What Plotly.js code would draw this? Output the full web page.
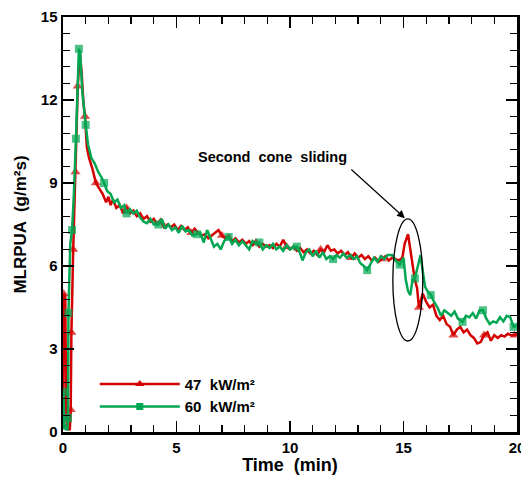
<!DOCTYPE html>
<html>
<head>
<meta charset="utf-8">
<script src="https://cdn.plot.ly/plotly-3.0.1.min.js"></script>
<style>html,body{margin:0;padding:0;background:#fff}#chart{width:521px;height:483px}</style>
</head>
<body>
<div id="chart"></div>
<script>
// ---- data (Time in min, MLRPUA in g/m²s) ----
const time47 = [0.00,0.03,0.10,0.14,0.20,0.30,0.34,0.37,0.45,0.55,0.65,0.74,0.82,0.90,0.97,1.05,1.15,1.30,1.45,1.60,1.75,1.90,2.00,2.10,2.20,2.35,2.50,2.65,2.80,2.95,3.10,3.25,3.40,3.55,3.70,3.85,4.00,4.15,4.30,4.45,4.60,4.75,4.90,5.05,5.20,5.35,5.50,5.65,5.80,5.95,6.10,6.25,6.40,6.55,6.70,6.85,7.00,7.15,7.30,7.45,7.60,7.75,7.90,8.05,8.20,8.35,8.50,8.65,8.80,8.95,9.10,9.25,9.40,9.55,9.70,9.85,10.00,10.15,10.30,10.45,10.60,10.75,10.90,11.05,11.20,11.35,11.50,11.65,11.80,11.95,12.10,12.25,12.40,12.55,12.70,12.85,13.00,13.15,13.30,13.45,13.60,13.75,13.90,14.05,14.20,14.35,14.50,14.65,14.80,14.95,15.05,15.20,15.30,15.40,15.50,15.60,15.68,15.75,15.85,16.00,16.15,16.30,16.45,16.60,16.75,16.90,17.05,17.20,17.35,17.50,17.65,17.80,17.95,18.10,18.25,18.40,18.55,18.70,18.85,19.00,19.15,19.30,19.45,19.60,19.75,19.90,20.00];
const mlr47 = [0.1,5.0,4.9,0.6,0.1,0.1,0.8,3.6,6.6,9.4,12.5,13.7,13.0,11.9,11.4,10.3,9.9,9.5,9.0,8.8,8.6,8.3,8.5,8.2,8.4,8.1,8.2,7.9,8.1,7.9,8.0,7.8,7.9,7.7,7.8,7.6,7.7,7.5,7.6,7.4,7.5,7.4,7.5,7.3,7.45,7.3,7.4,7.2,7.35,7.2,7.1,7.15,7.0,7.1,7.2,7.3,7.1,7.0,7.1,6.9,7.0,6.85,6.95,6.8,6.9,6.75,6.85,6.7,6.8,6.7,6.75,6.65,6.8,6.7,6.95,6.7,6.6,6.7,6.55,6.65,6.5,6.6,6.45,6.55,6.4,6.6,6.5,6.75,6.55,6.6,6.45,6.55,6.4,6.5,6.3,6.45,6.3,6.4,6.25,6.35,6.2,6.3,6.15,6.25,6.35,6.2,6.3,6.25,6.2,6.3,6.8,7.15,6.6,5.9,5.5,5.2,4.5,4.7,5.0,4.7,4.5,4.6,4.2,4.05,4.2,3.9,3.8,3.5,3.7,3.8,3.6,3.7,3.5,3.4,3.2,3.25,3.5,3.6,3.3,3.5,3.4,3.5,3.45,3.55,3.5,3.5,3.55];
const markerTimes47 = [0.03,0.34,0.37,0.45,0.55,0.65,0.97,1.45,2.80,4.30,5.65,7.00,8.50,9.85,11.35,12.70,14.05,15.68,17.20,18.55,19.90];

const time60 = [0.00,0.02,0.06,0.12,0.20,0.22,0.24,0.32,0.40,0.48,0.57,0.64,0.70,0.76,0.85,1.00,1.10,1.25,1.40,1.55,1.70,1.81,1.95,2.10,2.25,2.40,2.55,2.70,2.80,2.95,3.10,3.25,3.40,3.55,3.70,3.85,4.00,4.20,4.35,4.50,4.65,4.80,4.95,5.10,5.25,5.40,5.55,5.70,5.90,6.05,6.20,6.35,6.50,6.65,6.80,6.95,7.10,7.30,7.45,7.60,7.75,7.90,8.05,8.20,8.35,8.50,8.65,8.80,8.95,9.10,9.25,9.40,9.55,9.70,9.85,10.00,10.15,10.30,10.45,10.55,10.70,10.85,11.00,11.15,11.30,11.45,11.60,11.75,11.90,12.05,12.20,12.35,12.50,12.65,12.80,12.95,13.10,13.25,13.40,13.55,13.70,13.85,14.00,14.15,14.30,14.50,14.65,14.83,15.00,15.10,15.20,15.30,15.40,15.50,15.60,15.75,15.85,15.95,16.05,16.20,16.35,16.50,16.65,16.80,16.95,17.10,17.25,17.40,17.60,17.75,17.90,18.05,18.20,18.35,18.50,18.65,18.80,18.95,19.10,19.25,19.40,19.55,19.70,19.85,20.00];
const mlr60 = [0.1,1.45,0.3,0.1,0.1,0.5,4.3,6.8,7.3,8.6,10.6,12.6,13.85,13.7,12.3,11.1,10.4,9.9,9.7,9.4,9.2,9.0,8.7,8.6,8.3,8.4,8.1,8.2,7.9,8.05,7.9,8.0,7.75,7.6,7.55,7.7,7.5,7.5,7.7,7.35,7.5,7.3,7.4,7.2,7.45,7.25,7.3,7.1,7.15,7.2,6.85,7.3,7.0,6.7,6.8,6.6,6.9,7.05,6.8,6.95,6.75,6.9,6.75,6.6,6.9,6.8,6.85,6.6,6.75,6.65,6.8,6.6,6.7,6.55,6.75,6.6,6.7,6.7,6.45,6.2,6.5,6.6,6.35,6.55,6.3,6.5,6.25,6.35,6.25,6.4,6.3,6.45,6.3,6.4,6.25,6.35,6.1,6.0,5.85,6.1,6.3,6.15,6.35,6.25,6.4,6.4,6.2,6.05,6.3,5.5,5.1,4.95,5.5,5.55,5.9,6.4,5.8,5.25,5.1,4.95,4.7,4.5,4.2,4.4,4.3,4.2,4.35,4.1,3.98,4.2,4.15,4.3,4.1,4.4,4.4,4.1,3.9,4.0,3.95,4.15,4.0,4.2,4.15,3.8,3.85];
const markerTimes60 = [0.02,0.22,0.24,0.40,0.57,0.70,1.00,1.81,2.80,4.20,5.90,7.30,8.65,10.30,11.90,13.40,14.83,15.50,16.20,17.60,18.50,19.85];

const seriesNames = ['47  kW/m²', '60  kW/m²'];
const xTickVals = [0, 5, 10, 15, 20];
const yTickVals = [0, 3, 6, 9, 12, 15];
const xTitle = 'Time  (min)';
const yTitle = 'MLRPUA  (g/m²s)';
const noteText = 'Second  cone  sliding';

// ---- build ----
function sizes(times, marks, s) {
  return times.map(t => marks.some(m => Math.abs(m - t) < 1e-9) ? s : 0);
}
const RED = '#d40000', GREEN = '#00a651';
const FONT = 'Liberation Sans, Arial, sans-serif';
const styles = [
  {color: RED, symbol: 'triangle-up', size: 9, times: time47, vals: mlr47, marks: markerTimes47},
  {color: GREEN, symbol: 'square', size: 8, times: time60, vals: mlr60, marks: markerTimes60}
];

const traces = [];
styles.forEach((s, i) => {
  traces.push({x: s.times, y: s.vals, name: seriesNames[i], legendgroup: 'g' + i, showlegend: false,
    mode: 'lines+markers', type: 'scatter',
    line: {color: s.color, width: 2.5},
    marker: {symbol: s.symbol, color: s.color, size: sizes(s.times, s.marks, s.size), line: {width: 0}}});
});
styles.forEach((s, i) => {
  // legend entry only (no data)
  traces.push({x: [null], y: [null], name: seriesNames[i], legendgroup: 'g' + i, showlegend: true,
    mode: 'lines+markers', type: 'scatter',
    line: {color: s.color, width: 2.5},
    marker: {symbol: s.symbol, color: s.color, size: s.size - 1, line: {width: 0}}});
});

const axisCommon = {
  showline: true, linecolor: '#000', linewidth: 2.5, mirror: 'allticks',
  ticks: 'inside', ticklen: 11, tickwidth: 1.5, tickcolor: '#000',
  showgrid: false, zeroline: false, ticklabeloverflow: 'allow',
  tickfont: {family: FONT, size: 15, color: '#000', weight: 'bold'}
};

const layout = {
  width: 521, height: 483,
  margin: {l: 63, r: 4, t: 17, b: 51},
  paper_bgcolor: '#fff', plot_bgcolor: '#fff',
  font: {family: FONT, color: '#000'},
  xaxis: Object.assign({}, axisCommon, {
    range: [0, 20], tickvals: xTickVals, ticktext: xTickVals.map(String),
    minor: {dtick: 1, ticks: 'inside', ticklen: 7, tickwidth: 1.3, tickcolor: '#000'},
    title: {text: '<b>' + xTitle + '</b>', font: {family: FONT, size: 18, color: '#000'}, standoff: 4}
  }),
  yaxis: Object.assign({}, axisCommon, {
    range: [0, 15], tickvals: yTickVals, ticktext: yTickVals.map(String),
    minor: {dtick: 0.6, ticks: 'inside', ticklen: 7, tickwidth: 1.3, tickcolor: '#000'},
    title: {text: '<b>' + yTitle + '</b>', font: {family: FONT, size: 17, color: '#000'}, standoff: 10}
  }),
  showlegend: true,
  legend: {
    x: 0.07, y: 0.155, xanchor: 'left', yanchor: 'top',
    bgcolor: 'rgba(0,0,0,0)', borderwidth: 0, itemwidth: 80,
    font: {family: FONT, size: 15, color: '#000', weight: 'bold'},
    tracegroupgap: 0, traceorder: 'normal'
  },
  shapes: [
    {type: 'circle', xref: 'x', yref: 'y', x0: 14.53, x1: 15.85, y0: 3.29, y1: 7.70,
     line: {color: '#000', width: 1.3}}
  ],
  annotations: [
    {x: 15.06, y: 7.73, xref: 'x', yref: 'y', text: '', showarrow: true,
     axref: 'pixel', ayref: 'pixel', ax: -55, ay: -50,
     arrowhead: 2, arrowsize: 1.3, arrowwidth: 1.2, arrowcolor: '#000'},
    {x: 9.23, y: 9.94, xref: 'x', yref: 'y', text: '<b>' + noteText + '</b>', showarrow: false,
     font: {family: FONT, size: 14.5, color: '#000'}}
  ]
};

Plotly.newPlot('chart', traces, layout, {displayModeBar: false, staticPlot: true});
</script>
</body>
</html>
